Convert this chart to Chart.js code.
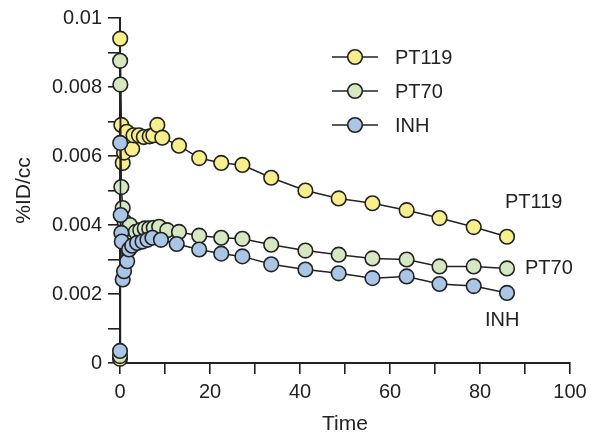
<!DOCTYPE html>
<html>
<head>
<meta charset="utf-8">
<script src="https://cdn.jsdelivr.net/npm/chart.js@4.4.1/dist/chart.umd.min.js"></script>
<style>
  html, body { margin: 0; padding: 0; background: #fff; }
  #wrap { width: 602px; height: 441px; }
</style>
</head>
<body>
<div id="wrap"><canvas id="pkChart" width="602" height="441"></canvas></div>
<script>
// time points and %ID/cc values
const pt119Time = [0, 0.05, 0.3, 0.6, 0.9, 1.5, 2.7, 3.0, 4.2, 5.3, 6.6, 7.4, 8.3, 9.4, 13.1, 17.6, 22.5, 27.2, 33.6, 41.2, 48.6, 56.1, 63.7, 71.0, 78.6, 86.0];
const pt119Vals = [0.00012, 0.0094, 0.0069, 0.0058, 0.0061, 0.0067, 0.0062, 0.0066, 0.0066, 0.00655, 0.00657, 0.0066, 0.0069, 0.00653, 0.0063, 0.00594, 0.0058, 0.00574, 0.00537, 0.005, 0.00477, 0.00463, 0.00443, 0.0042, 0.00394, 0.00366];

const pt70Time = [0, 0.03, 0.08, 0.3, 0.6, 1.0, 2.2, 3.5, 4.5, 5.5, 6.5, 7.5, 8.7, 10.5, 13.1, 17.6, 22.5, 27.2, 33.6, 41.2, 48.6, 56.1, 63.7, 71.0, 78.6, 86.0];
const pt70Vals = [0.0002, 0.00876, 0.00807, 0.0051, 0.00449, 0.0041, 0.004, 0.0038, 0.00385, 0.0039, 0.0039, 0.00392, 0.00395, 0.00385, 0.0038, 0.00369, 0.00363, 0.0036, 0.00343, 0.00326, 0.00314, 0.00303, 0.003, 0.0028, 0.0028, 0.00274];

const inhTime = [0, 0.05, 0.15, 0.3, 0.4, 0.6, 0.9, 1.6, 2.0, 2.7, 3.8, 5.0, 6.1, 7.2, 9.1, 12.6, 17.6, 22.5, 27.2, 33.6, 41.2, 48.6, 56.1, 63.7, 71.0, 78.6, 86.0];
const inhVals = [0.00035, 0.00638, 0.00429, 0.00377, 0.00352, 0.00242, 0.00266, 0.00295, 0.00329, 0.0034, 0.00348, 0.00352, 0.00357, 0.00363, 0.00357, 0.00345, 0.00329, 0.00317, 0.00309, 0.00286, 0.00271, 0.0026, 0.00246, 0.00251, 0.00229, 0.00223, 0.00203];

const seriesNames = ["PT119", "PT70", "INH"];
const fillColors = ["#f8ef8c", "#d5e8c2", "#a9c6e6"];
const edge = "#222222";

function toPoints(xs, ys) {
  return xs.map((x, i) => ({ x: x, y: ys[i] }));
}

function series(idx, xs, ys, order) {
  return {
    label: seriesNames[idx],
    data: toPoints(xs, ys),
    borderColor: edge,
    borderWidth: 1.5,
    backgroundColor: fillColors[idx],
    pointBackgroundColor: fillColors[idx],
    pointBorderColor: edge,
    pointBorderWidth: 1.6,
    pointRadius: 7.3,
    tension: 0,
    clip: false,
    order: order
  };
}

// legend on the upper right: short line with a marker, then the name
const legendBox = {
  id: "legendBox",
  afterDraw(chart) {
    const c = chart.ctx;
    c.save();
    seriesNames.forEach((name, i) => {
      const y = 57 + i * 34;
      c.strokeStyle = edge;
      c.lineWidth = 1.5;
      c.beginPath();
      c.moveTo(332, y);
      c.lineTo(378, y);
      c.stroke();
      c.beginPath();
      c.arc(355, y, 7.3, 0, Math.PI * 2);
      c.fillStyle = fillColors[i];
      c.fill();
      c.lineWidth = 1.6;
      c.stroke();
      c.fillStyle = "#222";
      c.font = "20px 'Liberation Sans', Arial, sans-serif";
      c.textBaseline = "middle";
      c.textAlign = "left";
      c.fillText(name, 395, y + 1);
    });
    c.restore();
  }
};

// name tags next to the end of each curve
const endTags = {
  id: "endTags",
  afterDraw(chart) {
    const c = chart.ctx;
    const offs = [[-2, -34], [18, 0], [-22, 28]];
    c.save();
    c.fillStyle = "#222";
    c.font = "20px 'Liberation Sans', Arial, sans-serif";
    c.textBaseline = "middle";
    c.textAlign = "left";
    chart.data.datasets.forEach((ds, i) => {
      const meta = chart.getDatasetMeta(i);
      const last = meta.data[meta.data.length - 1];
      c.fillText(ds.label, last.x + offs[i][0], last.y + offs[i][1]);
    });
    c.restore();
  }
};

document.addEventListener("DOMContentLoaded", () => {
  const ctx = document.getElementById("pkChart").getContext("2d");
  new Chart(ctx, {
    type: "line",
    data: {
      datasets: [
        series(0, pt119Time, pt119Vals, 3),
        series(1, pt70Time, pt70Vals, 2),
        series(2, inhTime, inhVals, 1)
      ]
    },
    options: {
      responsive: false,
      animation: false,
      layout: { padding: { left: 0, right: 32, top: 17, bottom: 0 } },
      plugins: { legend: { display: false }, tooltip: { enabled: false } },
      scales: {
        x: {
          type: "linear",
          min: 0,
          max: 100,
          afterFit: s => { s.height = 78; },
          border: { display: true, color: edge, width: 2 },
          grid: { drawOnChartArea: false, drawTicks: true, tickLength: 11, color: edge, lineWidth: 1.6 },
          ticks: {
            stepSize: 10,
            padding: 6,
            color: "#222",
            font: { family: "'Liberation Sans', Arial, sans-serif", size: 20 },
            callback: v => (v % 20 === 0 ? String(v) : "")
          },
          title: {
            display: true,
            text: "Time",
            color: "#222",
            font: { family: "'Liberation Sans', Arial, sans-serif", size: 21 },
            padding: { top: 0, bottom: 4 }
          }
        },
        y: {
          min: 0,
          max: 0.01,
          afterFit: s => { s.width = 120; },
          border: { display: true, color: edge, width: 2 },
          grid: { drawOnChartArea: false, drawTicks: true, tickLength: 12, color: edge, lineWidth: 1.6 },
          ticks: {
            stepSize: 0.001,
            padding: 6,
            color: "#222",
            font: { family: "'Liberation Sans', Arial, sans-serif", size: 20 },
            callback: v => {
              const k = Math.round(v * 1000);
              return k % 2 === 0 ? String(Number((k / 1000).toFixed(3))) : "";
            }
          },
          title: {
            display: true,
            text: "%ID/cc",
            color: "#222",
            font: { family: "'Liberation Sans', Arial, sans-serif", size: 21 },
            padding: { top: 12, bottom: 0 }
          }
        }
      }
    },
    plugins: [legendBox, endTags]
  });
});
</script>
</body>
</html>
